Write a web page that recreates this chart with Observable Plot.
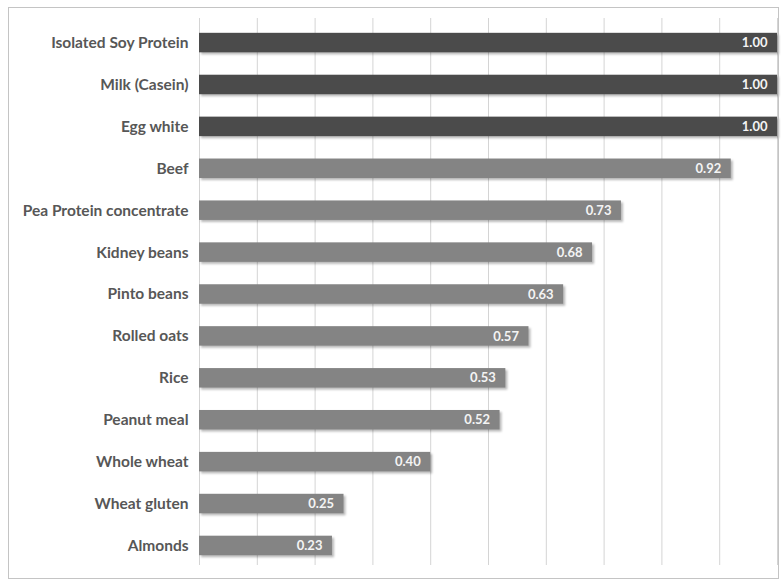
<!DOCTYPE html>
<html>
<head>
<meta charset="utf-8">
<script src="https://cdn.jsdelivr.net/npm/d3@7"></script>
<script src="https://cdn.jsdelivr.net/npm/@observablehq/plot@0.6"></script>
<style>
  html, body { margin: 0; padding: 0; background: #fff; }
  #wrap { position: relative; width: 783px; height: 579px; }
  #border { position: absolute; left: 8px; top: 7px; width: 769px; height: 570px; border: 1px solid #c4c4c4; pointer-events: none; }
  #chart svg { display: block; }
</style>
</head>
<body>
<div id="wrap"><div id="chart"></div><div id="border"></div></div>
<script>
const foods = ["Isolated Soy Protein", "Milk (Casein)", "Egg white", "Beef", "Pea Protein concentrate", "Kidney beans", "Pinto beans", "Rolled oats", "Rice", "Peanut meal", "Whole wheat", "Wheat gluten", "Almonds"];
const scores = [1.00, 1.00, 1.00, 0.92, 0.73, 0.68, 0.63, 0.57, 0.53, 0.52, 0.40, 0.25, 0.23];
const groups = ["complete", "complete", "complete", "other", "other", "other", "other", "other", "other", "other", "other", "other", "other"];
const xTicks = [0, 0.1, 0.2, 0.3, 0.4, 0.5, 0.6, 0.7, 0.8, 0.9, 1.0];

const data = foods.map((f, i) => ({food: f, score: scores[i], group: groups[i]}));

const chart = Plot.plot({
  width: 783,
  height: 579,
  marginLeft: 199,
  marginRight: 6,
  marginTop: 18,
  marginBottom: 14,
  style: {background: "#fff"},
  x: {domain: [0, 1], axis: null},
  y: {domain: foods, range: [21.5, 566.5], paddingInner: 0.535, paddingOuter: 0.27, round: false, label: null},
  color: {domain: ["complete", "other"], range: ["#4b4b4b", "#848484"]},
  marks: [
    Plot.ruleX(xTicks, {stroke: "#d4d4d4", strokeWidth: 1}),
    Plot.barX(data, {x: "score", y: "food", fill: "#000", fillOpacity: 0.28, dx: 2, dy: 2}),
    Plot.barX(data, {x: "score", y: "food", fill: "group"}),
    Plot.text(data, {x: "score", y: "food", text: d => d.score.toFixed(2), dx: -10, textAnchor: "end", fill: "#f4f4f4", fontWeight: "bold", fontSize: 13, fontFamily: "Lato"}),
    Plot.axisY({tickSize: 0, tickPadding: 11, fontSize: 15.5, fontWeight: "bold", fontFamily: "Lato", color: "#575757", label: null})
  ]
});
const bars = chart.querySelectorAll('g[aria-label="bar"]');
if (bars.length) bars[0].style.filter = "blur(1.2px)";
chart.querySelectorAll('g[aria-label="y-axis tick label"] text, g[aria-label="y-axis tick label"]').forEach(e => { e.style.fill = "#575757"; });
document.getElementById("chart").appendChild(chart);
</script>
</body>
</html>
